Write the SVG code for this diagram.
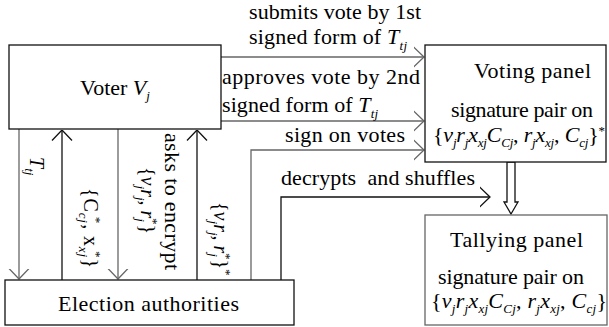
<svg xmlns="http://www.w3.org/2000/svg" width="609" height="327" viewBox="0 0 609 327" font-family="'Liberation Serif', Tinos, 'DejaVu Serif', serif">
  <defs>
    <style>
      text { font-family: 'Liberation Serif', Tinos, 'Times New Roman', 'DejaVu Serif', serif; font-size: 22px; fill: #000; }
      .i { font-style: italic; }
      .s { font-size: 13px; font-style: italic; }
      .sp { font-size: 13px; }
      .rot { font-size: 20px; }
      .box { fill: #fff; stroke: #111; stroke-width: 1.3; }
      .boxg { fill: #fff; stroke: #666; stroke-width: 1.3; }
      .gl { fill: none; stroke: #666; stroke-width: 1.3; }
      .bl { fill: none; stroke: #111; stroke-width: 1.3; }
    </style>
    <marker id="ag" markerUnits="userSpaceOnUse" viewBox="0 0 11 22" refX="10.5" refY="11" markerWidth="11" markerHeight="22" orient="auto">
      <path d="M0,1 L10.5,11 L0,21" fill="none" stroke="#666" stroke-width="1.3"/>
    </marker>
    <marker id="ab" markerUnits="userSpaceOnUse" viewBox="0 0 11 22" refX="10.5" refY="11" markerWidth="11" markerHeight="22" orient="auto">
      <path d="M0,1 L10.5,11 L0,21" fill="none" stroke="#111" stroke-width="1.3"/>
    </marker>
  </defs>

  <rect width="609" height="327" fill="#fff"/>

  <!-- connectors and their labels -->
  <g id="connectors">
    <path class="gl" d="M221,57 H424" marker-end="url(#ag)"/>
    <path class="gl" d="M221,121 H424" marker-end="url(#ag)"/>
    <path class="gl" d="M251,280 V150 H424" marker-end="url(#ag)"/>
    <path class="bl" d="M281,280 V197 H490" marker-end="url(#ab)"/>
    <path class="gl" d="M19,129 V279" marker-end="url(#ag)"/>
    <path class="bl" d="M62,280 V130" marker-end="url(#ab)"/>
    <path class="gl" d="M118,129 V279" marker-end="url(#ag)"/>
    <path class="bl" d="M197,280 V130" marker-end="url(#ab)"/>
    <polygon points="507,162 515,162 515,202 518,202 511,214 504,202 507,202" fill="#fff" stroke="#111" stroke-width="1.3"/>

    <text x="249" y="19" textLength="172" lengthAdjust="spacing">submits vote by 1st</text>
    <text x="249" y="44" textLength="158" lengthAdjust="spacing">signed form of <tspan class="i">T</tspan><tspan class="s" dy="6">tj</tspan></text>
    <text x="222" y="84" textLength="198" lengthAdjust="spacing">approves vote by 2nd</text>
    <text x="222" y="112" textLength="156" lengthAdjust="spacing">signed form of <tspan class="i">T</tspan><tspan class="s" dy="6">tj</tspan></text>
    <text x="285" y="142" textLength="120" lengthAdjust="spacing">sign on votes</text>
    <text x="281" y="185" textLength="194" lengthAdjust="spacing" xml:space="preserve">decrypts  and shuffles</text>

    <text class="rot" transform="translate(30,157) rotate(90)"><tspan class="i">T</tspan><tspan class="s" dy="5">tj</tspan></text>
    <text class="rot" transform="translate(84,188) rotate(90)" textLength="80" lengthAdjust="spacing">{C<tspan class="s" dy="5">cj</tspan><tspan class="sp" dx="-7" dy="-13">*</tspan><tspan dy="8">, x</tspan><tspan class="s" dy="5">xj</tspan><tspan class="sp" dx="-7" dy="-13">*</tspan><tspan dy="8">}</tspan></text>
    <text transform="translate(165,133) rotate(90)" font-size="21" textLength="137" lengthAdjust="spacing">asks to encrypt</text>
    <text class="rot" transform="translate(141,167) rotate(90)">{<tspan class="i">v</tspan><tspan class="s" dy="5">j</tspan><tspan class="i" dy="-5">r</tspan><tspan class="s" dy="5">j</tspan><tspan dy="-5">, </tspan><tspan class="i">r</tspan><tspan class="s" dy="5">j</tspan><tspan class="sp" dx="-4" dy="-13">*</tspan><tspan dy="8">}</tspan></text>
    <text class="rot" transform="translate(214,202) rotate(90)">{<tspan class="i">v</tspan><tspan class="s" dy="5">j</tspan><tspan class="i" dy="-5">r</tspan><tspan class="s" dy="5">j</tspan><tspan dy="-5">, </tspan><tspan class="i">r</tspan><tspan class="s" dy="5">j</tspan><tspan class="sp" dx="-4" dy="-13">*</tspan><tspan dy="8">}</tspan><tspan class="sp" dy="-8">*</tspan></text>
  </g>

  <!-- Voter -->
  <g id="voter">
    <rect class="box" x="9" y="45" width="212" height="84"/>
    <text x="115" y="95" text-anchor="middle">Voter <tspan class="i">V</tspan><tspan class="s" dy="5">j</tspan></text>
  </g>

  <!-- Voting panel -->
  <g id="voting-panel">
    <rect class="box" x="425" y="45" width="181" height="117"/>
    <text x="474" y="78" textLength="117" lengthAdjust="spacing">Voting panel</text>
    <text x="451" y="117" textLength="142" lengthAdjust="spacing">signature pair on</text>
    <text x="433" y="142" textLength="172" lengthAdjust="spacing">{<tspan class="i">v</tspan><tspan class="s" dy="5">j</tspan><tspan class="i" dy="-5">r</tspan><tspan class="s" dy="5">j</tspan><tspan class="i" dy="-5">x</tspan><tspan class="s" dy="5">xj</tspan><tspan class="i" dy="-5">C</tspan><tspan class="s" dy="5">Cj</tspan><tspan dy="-5">, </tspan><tspan class="i">r</tspan><tspan class="s" dy="5">j</tspan><tspan class="i" dy="-5">x</tspan><tspan class="s" dy="5">xj</tspan><tspan dy="-5">, </tspan><tspan class="i">C</tspan><tspan class="s" dy="5">cj</tspan><tspan dy="-5">}</tspan><tspan class="sp" dy="-7">*</tspan></text>
  </g>

  <!-- Tallying panel -->
  <g id="tallying-panel">
    <rect class="boxg" x="425" y="215" width="182" height="110"/>
    <text x="450" y="247" textLength="133" lengthAdjust="spacing">Tallying panel</text>
    <text x="438" y="284" textLength="146" lengthAdjust="spacing">signature pair on</text>
    <text x="431" y="308" textLength="176" lengthAdjust="spacing">{<tspan class="i">v</tspan><tspan class="s" dy="5">j</tspan><tspan class="i" dy="-5">r</tspan><tspan class="s" dy="5">j</tspan><tspan class="i" dy="-5">x</tspan><tspan class="s" dy="5">xj</tspan><tspan class="i" dy="-5">C</tspan><tspan class="s" dy="5">Cj</tspan><tspan dy="-5">, </tspan><tspan class="i">r</tspan><tspan class="s" dy="5">j</tspan><tspan class="i" dy="-5">x</tspan><tspan class="s" dy="5">xj</tspan><tspan dy="-5">, </tspan><tspan class="i">C</tspan><tspan class="s" dy="5">cj</tspan><tspan dy="-5">}</tspan></text>
  </g>

  <!-- Election authorities -->
  <g id="election-authorities">
    <rect class="box" x="5" y="280" width="289" height="45"/>
    <text x="58" y="311" textLength="181" lengthAdjust="spacing">Election authorities</text>
  </g>
</svg>
